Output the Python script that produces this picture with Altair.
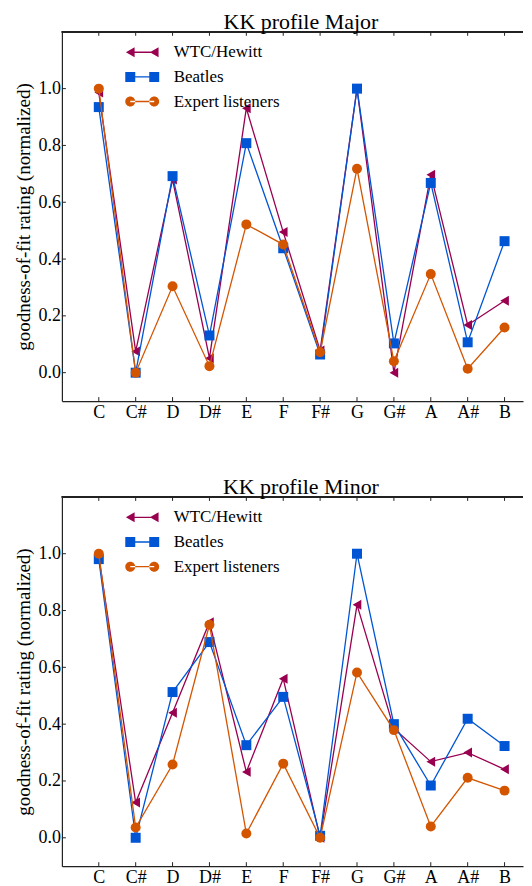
import altair as alt
import pandas as pd

notes = ["C", "C#", "D", "D#", "E", "F", "F#", "G", "G#", "A", "A#", "B"]
series_names = ["WTC/Hewitt", "Beatles", "Expert listeners"]
series_colors = ["#990050", "#0055d4", "#d45500"]
series_shapes = ["triangle-left", "square", "circle"]

major_wtc = [0.986, 0.075, 0.680, 0.051, 0.931, 0.495, 0.078, 1.000, 0.000, 0.697, 0.168, 0.253]
major_beatles = [0.935, 0.000, 0.692, 0.131, 0.808, 0.438, 0.064, 1.000, 0.103, 0.668, 0.107, 0.463]
major_expert = [1.000, 0.000, 0.304, 0.023, 0.522, 0.451, 0.072, 0.718, 0.040, 0.347, 0.014, 0.159]

minor_wtc = [0.990, 0.124, 0.440, 0.759, 0.232, 0.560, 0.000, 0.820, 0.385, 0.268, 0.300, 0.241]
minor_beatles = [0.981, 0.000, 0.513, 0.689, 0.326, 0.496, 0.007, 1.000, 0.400, 0.184, 0.419, 0.323]
minor_expert = [1.000, 0.036, 0.258, 0.750, 0.015, 0.261, 0.000, 0.582, 0.379, 0.040, 0.211, 0.166]

y_ticks = [0.0, 0.2, 0.4, 0.6, 0.8, 1.0]

W, H = 462, 370
FONT = "Liberation Serif, Times New Roman, Times, serif"
INK = "#222222"
TICK = 4


def legend_symbol(kind):
    line = "M-2.4,-0.14H2.4V0.14H-2.4Z"
    parts = [line]
    for cx in (-2.4, 2.4):
        if kind == "triangle-left":
            parts.append(f"M{cx-0.87:.2f},0L{cx+0.87:.2f},-1L{cx+0.87:.2f},1Z")
        elif kind == "square":
            parts.append(f"M{cx-1:.2f},-1H{cx+1:.2f}V1H{cx-1:.2f}Z")
        else:
            parts.append(f"M{cx-1:.2f},0A1,1 0 1,0 {cx+1:.2f},0A1,1 0 1,0 {cx-1:.2f},0Z")
    return " ".join(parts)


legend_paths = [legend_symbol(s) for s in series_shapes]
label_expr = "[" + ",".join(f"'{n}'" for n in notes) + "][datum.value]"
x_tick_df = pd.DataFrame({"idx": list(range(len(notes)))})
y_tick_df = pd.DataFrame({"v": y_ticks})


def panel(title, values_by_series):
    rows = []
    for name, vals in zip(series_names, values_by_series):
        for i, (n, v) in enumerate(zip(notes, vals)):
            rows.append({"series": name, "note": n, "idx": i, "value": v})
    df = pd.DataFrame(rows)
    base = alt.Chart(df)
    xs = alt.Scale(domain=[-1, len(notes) - 0.5], nice=False, zero=False)
    ys = alt.Scale(domain=[-0.1, 1.2], nice=False, zero=False)

    layers = []
    for name, col, shp in zip(series_names, series_colors, series_shapes):
        sub = base.transform_filter(alt.datum.series == name)
        enc = dict(
            x=alt.X("idx:Q", scale=xs, axis=None),
            y=alt.Y("value:Q", scale=ys, axis=None),
        )
        layers.append(sub.mark_line(color=col, strokeWidth=1.3).encode(**enc))
        layers.append(
            sub.mark_point(shape=shp, filled=True, size=100, color=col, opacity=1).encode(**enc)
        )

    empty = base.transform_filter("false")
    main_axes = empty.mark_point().encode(
        x=alt.X(
            "idx:Q",
            scale=xs,
            axis=alt.Axis(
                orient="bottom", values=list(range(len(notes))), labelExpr=label_expr,
                ticks=False, domain=True, domainColor=INK, domainWidth=1.2, grid=False, title=None,
                labelFont=FONT, labelFontSize=18, labelColor="#000", labelPadding=2,
                labelFlush=False, labelOverlap=False,
            ),
        ),
        y=alt.Y(
            "value:Q",
            scale=ys,
            axis=alt.Axis(
                orient="left", values=y_ticks, format=".1f",
                ticks=False, domain=True, domainColor=INK, domainWidth=1.2, grid=False,
                title="goodness-of-fit rating (normalized)",
                titleFont=FONT, titleFontSize=19, titleFontWeight="normal", titleColor="#000",
                titlePadding=4,
                labelFont=FONT, labelFontSize=18, labelColor="#000", labelPadding=1.5,
                labelFlush=False, labelOverlap=False,
            ),
        ),
    )

    xt = alt.Chart(x_tick_df)
    bottom_ticks = xt.mark_rule(color=INK, strokeWidth=1).encode(
        x=alt.X("idx:Q", scale=xs, axis=None), y=alt.value(H), y2=alt.value(H - TICK)
    )
    top_ticks = xt.mark_rule(color=INK, strokeWidth=1).encode(
        x=alt.X("idx:Q", scale=xs, axis=None), y=alt.value(0), y2=alt.value(TICK)
    )
    left_ticks = alt.Chart(y_tick_df).mark_rule(color=INK, strokeWidth=1).encode(
        y=alt.Y("v:Q", scale=ys, axis=None), x=alt.value(0), x2=alt.value(TICK)
    )
    top_spine = xt.mark_rule(color=INK, strokeWidth=1.2).encode(
        x=alt.value(0), x2=alt.value(W), y=alt.value(0)
    )

    leg = alt.Legend(
        orient="none", legendX=72, legendY=12, title=None, padding=0,
        labelFont=FONT, labelFontSize=17, labelColor="#000", labelOffset=23,
        symbolSize=100, symbolStrokeWidth=0, rowPadding=6.7,
    )
    legend_layer = empty.mark_point(filled=True, opacity=1).encode(
        color=alt.Color("series:N", scale=alt.Scale(domain=series_names, range=series_colors), legend=leg),
        shape=alt.Shape("series:N", scale=alt.Scale(domain=series_names, range=legend_paths), legend=leg),
    )

    return (
        alt.layer(*layers, main_axes, bottom_ticks, top_ticks, left_ticks, top_spine, legend_layer)
        .resolve_axis(x="independent", y="independent")
        .properties(
            width=W, height=H,
            title=alt.Title(title, font=FONT, fontSize=22, fontWeight="normal", color="#000",
                            anchor="middle", baseline="alphabetic", offset=5, dx=8.5, dy=25),
        )
    )


chart = (
    alt.vconcat(
        panel("KK profile Major", [major_wtc, major_beatles, major_expert]),
        panel("KK profile Minor", [minor_wtc, minor_beatles, minor_expert]),
        spacing=55,
    )
    .resolve_scale(color="independent", shape="independent")
    .resolve_legend(color="independent", shape="independent")
    .properties(padding={"left": 7, "top": 2, "right": 0, "bottom": 0})
    .configure(font=FONT)
    .configure_view(stroke=None)
)

chart.save("out.html", embed_options={"renderer": "svg", "actions": False})
